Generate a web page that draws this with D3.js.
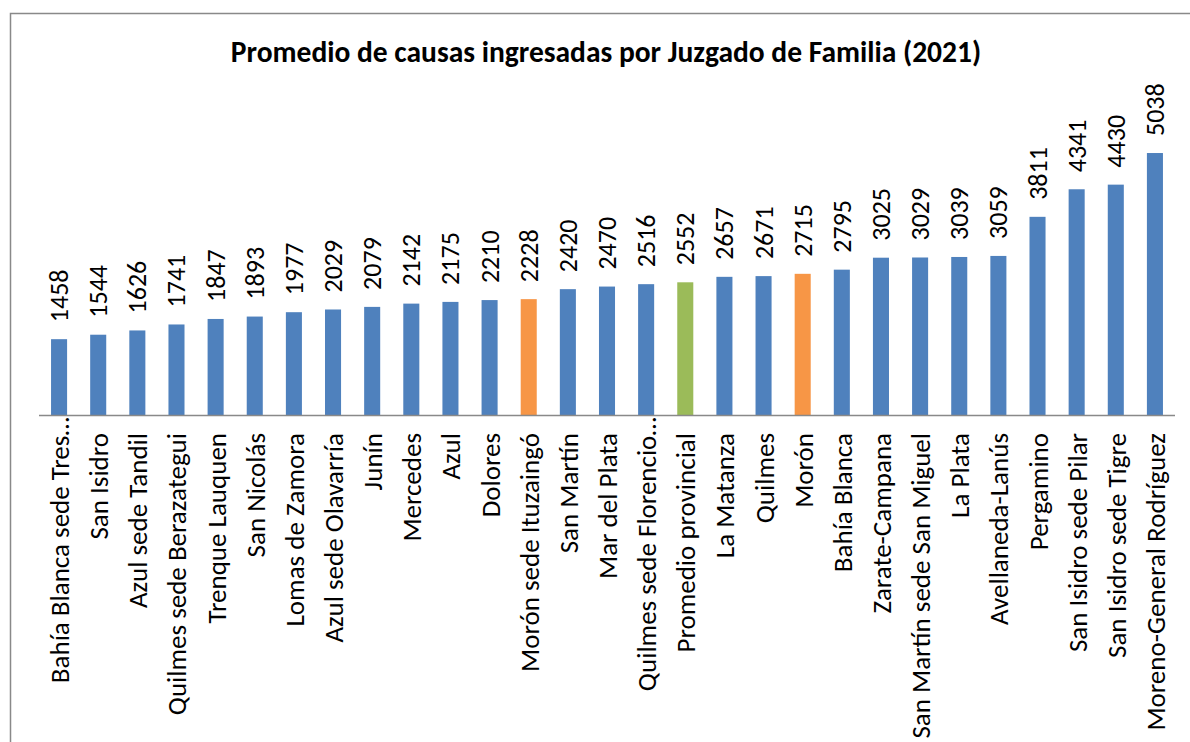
<!DOCTYPE html>
<html>
<head>
<meta charset="utf-8">
<script src="https://cdn.jsdelivr.net/npm/d3@7"></script>
<style>
  body { margin: 0; background: #fff; }
  svg { display: block; font-family: Carlito, Calibri, "Liberation Sans", sans-serif; }
</style>
</head>
<body>
<div id="chart"></div>
<script>
// juzgados, ordenados de menor a mayor
const categories = [
  "Bahía Blanca sede Tres…", "San Isidro", "Azul sede Tandil", "Quilmes sede Berazategui",
  "Trenque Lauquen", "San Nicolás", "Lomas de Zamora", "Azul sede Olavarría", "Junín",
  "Mercedes", "Azul", "Dolores", "Morón sede Ituzaingó", "San Martín", "Mar del Plata",
  "Quilmes sede Florencio…", "Promedio provincial", "La Matanza", "Quilmes", "Morón",
  "Bahía Blanca", "Zarate-Campana", "San Martín sede San Miguel", "La Plata",
  "Avellaneda-Lanús", "Pergamino", "San Isidro sede Pilar", "San Isidro sede Tigre",
  "Moreno-General Rodríguez"
];
const values = [
  1458, 1544, 1626, 1741, 1847, 1893, 1977, 2029, 2079, 2142, 2175, 2210, 2228, 2420,
  2470, 2516, 2552, 2657, 2671, 2715, 2795, 3025, 3029, 3039, 3059, 3811, 4341, 4430, 5038
];
const highlightMoron = ["Morón sede Ituzaingó", "Morón"];
const highlightAvg = ["Promedio provincial"];

const width = 1190, height = 742;
const svg = d3.select("#chart").append("svg")
  .attr("width", width).attr("height", height);

// marco del gráfico
svg.append("rect")
  .attr("x", 10.5).attr("y", 13.5)
  .attr("width", width + 20).attr("height", height + 20)
  .attr("fill", "none").attr("stroke", "#898989").attr("stroke-width", 1.5);

svg.append("text")
  .attr("x", 606).attr("y", 62)
  .attr("text-anchor", "middle")
  .style("font-size", "29.5px").style("font-weight", "bold")
  .text("Promedio de causas ingresadas por Juzgado de Familia (2021)");

const x = d3.scaleBand().domain(categories).range([39.5, 1174.5])
  .paddingInner(0.59).paddingOuter(0.295);
const y = d3.scaleLinear().domain([0, 6000]).range([415, 103]);

const color = d => highlightMoron.includes(d) ? "#F79646"
  : highlightAvg.includes(d) ? "#9BBB59" : "#4F81BD";

const data = categories.map((c, i) => ({ cat: c, val: values[i] }));

svg.selectAll("rect.bar").data(data).join("rect")
  .attr("class", "bar")
  .attr("x", d => x(d.cat))
  .attr("y", d => y(d.val))
  .attr("width", x.bandwidth())
  .attr("height", d => y(0) - y(d.val))
  .attr("fill", d => color(d.cat));

// eje x
svg.append("line")
  .attr("x1", 39).attr("x2", 1175)
  .attr("y1", y(0) + 0.5).attr("y2", y(0) + 0.5)
  .attr("stroke", "#898989").attr("stroke-width", 1.5);

// etiquetas de valor
svg.selectAll("text.val").data(data).join("text")
  .attr("class", "val")
  .attr("transform", d => `translate(${x(d.cat) + x.bandwidth() / 2 + 9},${y(d.val) - 17}) rotate(-90)`)
  .attr("text-anchor", "start")
  .style("font-size", "26px")
  .text(d => d.val);

// etiquetas de categorías (las truncadas llegan casi al eje)
svg.selectAll("text.cat").data(data).join("text")
  .attr("class", "cat")
  .attr("transform", d => `translate(${x(d.cat) + x.bandwidth() / 2 + 10},${y(0) + (d.cat.endsWith("…") ? 2 : 18)}) rotate(-90)`)
  .attr("text-anchor", "end")
  .style("font-size", "27px")
  .text(d => d.cat);
</script>
</body>
</html>
